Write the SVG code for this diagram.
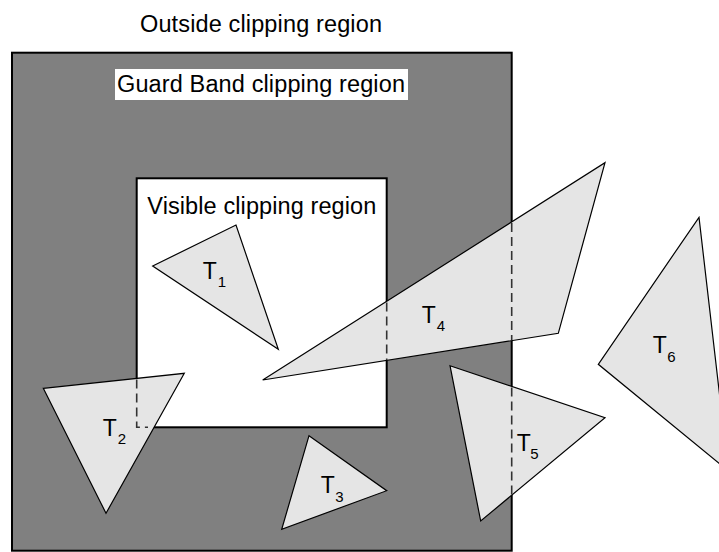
<svg xmlns="http://www.w3.org/2000/svg" width="719" height="552" viewBox="0 0 719 552">
  <style>
    .lbl { font-family: "Liberation Sans", Arial, Helvetica, sans-serif; font-size: 23.5px; fill: #000; }
    .tl { font-family: "Liberation Sans", Arial, Helvetica, sans-serif; font-size: 23px; fill: #000; }
    .sub { font-size: 15px; }
    .tri { fill: #e5e5e5; stroke: #000; stroke-width: 1.2; stroke-linejoin: miter; }
    .dash { fill: none; stroke: #333; stroke-width: 1.6; stroke-dasharray: 9 5; }
  </style>
  <rect x="0" y="0" width="719" height="552" fill="#fff"/>

  <g id="outside-region">
    <text class="lbl" x="140" y="32" textLength="242" lengthAdjust="spacing">Outside clipping region</text>
  </g>

  <g id="guard-band-region">
    <rect x="12" y="52.7" width="499.7" height="498" fill="#808080" stroke="#000" stroke-width="2"/>
    <rect x="115" y="69" width="293" height="31" fill="#fff"/>
    <text class="lbl" x="117" y="92" textLength="288" lengthAdjust="spacing">Guard Band clipping region</text>
  </g>

  <g id="visible-region">
    <rect x="136.7" y="178.3" width="250" height="249" fill="#fff" stroke="#000" stroke-width="2"/>
    <text class="lbl" x="147.3" y="214.3" textLength="229" lengthAdjust="spacing">Visible clipping region</text>
  </g>

  <g id="T1">
    <polygon class="tri" points="152.7,266 236,225 278.3,349.3"/>
    <text class="tl" x="202.7" y="279.3">T<tspan class="sub" dx="1" dy="8">1</tspan></text>
  </g>

  <g id="T2">
    <polygon class="tri" points="43.3,388.3 184.3,373.3 106,513.3"/>
    <text class="tl" x="102.7" y="436">T<tspan class="sub" dx="1" dy="7.5">2</tspan></text>
  </g>

  <g id="T3">
    <polygon class="tri" points="309,435.7 386.7,490.7 281.7,529.3"/>
    <text class="tl" x="320.7" y="493.3">T<tspan class="sub" dx="0.5" dy="8.4">3</tspan></text>
  </g>

  <g id="T4">
    <polygon class="tri" points="605,162.7 558.3,333.3 262.7,380"/>
    <text class="tl" x="421.7" y="323.3">T<tspan class="sub" dx="1" dy="7.7">4</tspan></text>
  </g>

  <g id="T5">
    <polygon class="tri" points="450,365.7 605,417.7 480.7,521"/>
    <text class="tl" x="516.7" y="450.7">T<tspan class="sub" dx="-0.5" dy="8.6">5</tspan></text>
  </g>

  <g id="T6">
    <polygon class="tri" points="699,217.3 728.4,471 598.3,364.3"/>
    <text class="tl" x="652.7" y="352.7">T<tspan class="sub" dx="0.5" dy="9">6</tspan></text>
  </g>

  <g id="connectors">
    <path class="dash" d="M136.7,379.5 V427.3 H148"/>
    <path class="dash" d="M386.7,302.5 V360"/>
    <path class="dash" d="M511.7,223 V340"/>
    <path class="dash" d="M511.7,387.5 V494.5"/>
  </g>
</svg>
